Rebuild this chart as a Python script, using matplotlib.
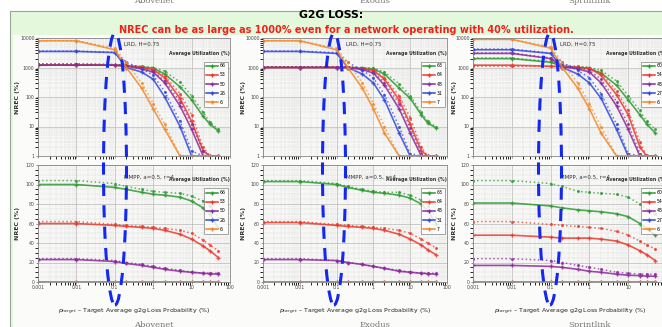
import numpy as np
import matplotlib
matplotlib.use('Agg')
import matplotlib.pyplot as plt
from matplotlib.patches import Rectangle, Ellipse
from matplotlib.lines import Line2D

W, H = 662, 327

# target loss probability (%)
x = [0.001, 0.01, 0.1, 0.2, 0.5, 1, 2, 5, 10, 20, 30, 50]

networks = ['Abovenet', 'Exodus', 'Sprintlink']
util_labels = [['66', '53', '50', '26', '6'],
               ['63', '64', '48', '31', '7'],
               ['60', '54', '48', '27', '6']]

# LRD, H=0.75 (log scale) -- solid = analysis, dotted = simulation
lrd_solid = [
    [[1200, 1200, 1200, 1150, 1050, 950, 600, 220, 80, 22, 12, 7],
     [1200, 1200, 1200, 1150, 1000, 850, 450, 90, 15, 1.5, 1, 1],
     [1200, 1200, 1200, 1100, 900, 700, 300, 50, 8, 1, 1, 1],
     [3500, 3500, 3200, 1000, 700, 400, 100, 10, 1, 1, 1, 1],
     [8000, 8000, 4000, 1000, 200, 40, 8, 1, 1, 1, 1, 1]],
    [[1000, 1000, 1000, 1000, 950, 900, 600, 200, 90, 25, 13, 9],
     [1000, 1000, 1000, 1000, 900, 800, 400, 80, 12, 1.5, 1, 1],
     [1000, 1000, 1000, 1000, 850, 650, 250, 40, 6, 1, 1, 1],
     [3500, 3500, 3000, 1000, 600, 300, 80, 6, 1, 1, 1, 1],
     [8000, 8000, 4000, 1000, 200, 40, 6, 1, 1, 1, 1, 1]],
    [[2000, 2000, 1500, 1100, 1000, 900, 650, 250, 80, 25, 12, 6],
     [1200, 1200, 1100, 1050, 1000, 950, 550, 120, 25, 2, 1, 1],
     [3000, 3000, 2000, 1050, 900, 700, 300, 50, 8, 1, 1, 1],
     [4000, 4000, 3000, 1000, 600, 300, 90, 8, 1, 1, 1, 1],
     [9000, 9000, 4500, 1000, 200, 40, 6, 1, 1, 1, 1, 1]],
]
lrd_sim = [
    [[1300, 1300, 1250, 1200, 1100, 1000, 750, 320, 110, 30, 14, 8],
     [1300, 1300, 1250, 1200, 1050, 900, 520, 130, 25, 2, 1, 1],
     [1300, 1300, 1250, 1150, 950, 750, 350, 70, 12, 1.5, 1, 1],
     [3600, 3600, 3300, 1500, 900, 550, 150, 15, 1.5, 1, 1, 1],
     [8200, 8200, 4500, 1500, 300, 60, 12, 1, 1, 1, 1, 1]],
    [[1050, 1050, 1050, 1050, 1000, 950, 700, 280, 110, 30, 15, 10],
     [1050, 1050, 1050, 1050, 950, 850, 450, 110, 20, 2, 1, 1],
     [1050, 1050, 1050, 1050, 900, 700, 300, 60, 9, 1.2, 1, 1],
     [3600, 3600, 3200, 1500, 800, 450, 120, 10, 1.2, 1, 1, 1],
     [8200, 8200, 4500, 1500, 300, 60, 10, 1, 1, 1, 1, 1]],
    [[2100, 2100, 1600, 1200, 1100, 1000, 800, 350, 110, 35, 15, 8],
     [1100, 1100, 1100, 1100, 1050, 1000, 650, 160, 35, 3, 1, 1],
     [3100, 3100, 2100, 1200, 1000, 800, 400, 70, 12, 1.2, 1, 1],
     [4200, 4200, 3100, 1500, 800, 450, 130, 12, 1.2, 1, 1, 1],
     [9000, 9000, 5000, 1500, 300, 60, 10, 1, 1, 1, 1, 1]],
]

# MMPP, a=0.5, r=4 (linear scale)
mmpp_solid = [
    [[100, 100, 97, 95, 92, 90, 89, 87, 83, 76, 70, 55],
     [60, 60, 58, 57, 56, 55, 53, 49, 44, 37, 32, 25],
     [23, 23, 21, 19, 17, 15, 13, 11, 10, 9, 8.5, 8],
     [0] * 12, [0] * 12],
    [[103, 103, 100, 97, 94, 92, 91, 89, 86, 80, 73, 60],
     [61, 61, 58, 57, 56, 55, 53, 49, 44, 38, 33, 28],
     [23, 23, 22, 20, 18, 16, 14, 11, 10, 9, 8.5, 8],
     [0] * 12, [0] * 12],
    [[81, 81, 78, 76, 74, 73, 72, 70, 67, 60, 55, 48],
     [48, 48, 46, 45, 45, 45, 44, 42, 38, 32, 28, 22],
     [17, 17, 16, 15, 13, 11, 10, 8, 7, 6.5, 6, 6],
     [0] * 12, [0] * 12],
]
mmpp_sim = [
    [[104, 104, 101, 98, 95, 93, 92, 91, 88, 83, 78, 66],
     [62, 62, 59, 58, 57, 56, 55, 53, 50, 43, 38, 32],
     [24, 24, 22, 20, 18, 16, 14, 12, 10, 9, 9, 9],
     [0] * 12, [0] * 12],
    [[104, 104, 101, 98, 95, 93, 92, 92, 89, 84, 78, 66],
     [62, 62, 59, 58, 57, 56, 55, 53, 50, 44, 40, 35],
     [24, 24, 22, 20, 18, 16, 14, 12, 10, 9, 9, 9],
     [0] * 12, [0] * 12],
    [[104, 104, 101, 98, 93, 92, 91, 90, 87, 80, 75, 70],
     [62, 62, 59, 58, 57, 56, 55, 52, 48, 42, 38, 34],
     [24, 24, 22, 20, 17, 15, 13, 10, 9, 8, 8, 8],
     [0] * 12, [0] * 12],
]

colors = ['#2f9a33', '#ec3a2e', '#8d2a9c', '#3548dc', '#f18a2c']

# panel columns in pixels (left, right) and ellipse centres
cols = [(38, 230), (263, 447), (473, 667)]
ell_x = [115, 334, 550]
ylab_x = [20, 246, 457]


def box(l, t, r, b):
    return [l / W, 1 - b / H, (r - l) / W, (b - t) / H]


fig = plt.figure(figsize=(W / 100, H / 100), dpi=100)
fig.patches.append(Rectangle((10 / W, 0), 1, 1 - 11 / H, transform=fig.transFigure,
                             facecolor='#e4f9dc', edgecolor='#9aa59a', lw=0.8, zorder=-10))
fig.patches.append(Rectangle((13 / W, 0), 1, 1 - 35 / H, transform=fig.transFigure,
                             facecolor='#fbfcfa', edgecolor='none', zorder=-9))

fig.text(0.5, 1 - 15 / H, 'G2G LOSS:', ha='center', va='center', fontsize=7.8, fontweight='bold')
fig.text(346 / W, 1 - 30 / H, 'NREC can be as large as 1000% even for a network operating with 40% utilization.',
         ha='center', va='center', fontsize=7.0, fontweight='bold', color='#f0201a')

for i, (l, r) in enumerate(cols):
    fig.text((l + r) / 2 / W + 0.03, 1 - 1 / H, networks[i], ha='center', va='center',
             fontsize=6, color='#777777', family='DejaVu Serif')
    fig.text((l + r) / 2 / W + 0.03, 1 - 325 / H, networks[i], ha='center', va='center',
             fontsize=6, color='#777777', family='DejaVu Serif')

    for k, (t, b) in enumerate([(38, 156), (165, 282)]):
        ax = fig.add_axes(box(l, t, r, b))
        ax.set_facecolor('#f7f8f6')
        ax.set_xscale('log')
        ax.set_xlim(0.001, 100)
        handles = []
        for j in range(5):
            if k == 0:
                ys, yd = lrd_solid[i][j], lrd_sim[i][j]
            else:
                ys, yd = mmpp_solid[i][j], mmpp_sim[i][j]
            ax.plot(x, ys, color=colors[j], lw=1.2, marker='+', ms=2.5, alpha=0.85)
            ax.plot(x, yd, color=colors[j], lw=1.1, ls=':', marker='.', ms=2.5, alpha=0.75)
            handles.append(Line2D([], [], color=colors[j], lw=1.1, marker='+', ms=2.5))
        if k == 0:
            ax.set_yscale('log')
            ax.set_ylim(1, 10000)
            ax.set_yticks([1, 10, 100, 1000, 10000])
            ax.set_yticklabels(['1', '10', '100', '1000', '10000'])
            ax.tick_params(axis='x', labelbottom=False)
            ax.text(0.45, 0.93, 'LRD, H=0.75', transform=ax.transAxes, fontsize=4, color='#333333')
        else:
            ax.set_ylim(0, 120)
            ax.set_yticks(range(0, 121, 20))
            ax.set_yticks(range(0, 121, 5), minor=True)
            ax.set_xticks([0.001, 0.01, 0.1, 1, 10, 100])
            ax.set_xticklabels(['0.001', '0.01', '0.1', '1', '10', '100'])
            ax.text(0.45, 0.88, 'MMPP, a=0.5, r=4', transform=ax.transAxes, fontsize=4, color='#333333')
        ax.grid(True, which='major', color='#b8b8b8', lw=0.5)
        ax.grid(True, which='minor', color='#d8d8d8', lw=0.35, ls='--')
        ax.tick_params(labelsize=3.3, length=1.5, width=0.4, pad=1, colors='#444444')
        for s in ax.spines.values():
            s.set_color('#888888')
            s.set_linewidth(0.6)
        ax.set_ylabel('NREC (%)', fontsize=4.5, fontweight='bold', labelpad=2, color='#333333')
        ax.yaxis.set_label_coords((ylab_x[i] - l) / (r - l), 0.5)
        ax.text(1.0, 0.86, 'Average Utilization (%)', transform=ax.transAxes, ha='right',
                fontsize=3.3, fontweight='bold', color='#333333')
        leg = ax.legend(handles, util_labels[i], loc='upper right', bbox_to_anchor=(1.0, 0.82),
                        fontsize=3.3, frameon=True, handlelength=2.6, borderpad=0.4,
                        labelspacing=0.9, handletextpad=0.4, fancybox=False)
        leg.get_frame().set_edgecolor('#666666')
        leg.get_frame().set_linewidth(0.5)

    fig.text((l + r) / 2 / W, 1 - 312 / H, r'$p_{target}$ – Target Average g2g Loss Probability (%)',
             ha='center', va='center', fontsize=4.5, color='#222222')

    # dashed highlight around p_target = 0.1%
    cx = ell_x[i]
    fig.patches.append(Ellipse((cx / W, 1 - 169 / H), 23 / W, 272 / H, transform=fig.transFigure,
                               fill=False, edgecolor='#1428f0', lw=2.2, ls=(0, (4, 3)), zorder=20))

fig.savefig('out.png', dpi=100)
